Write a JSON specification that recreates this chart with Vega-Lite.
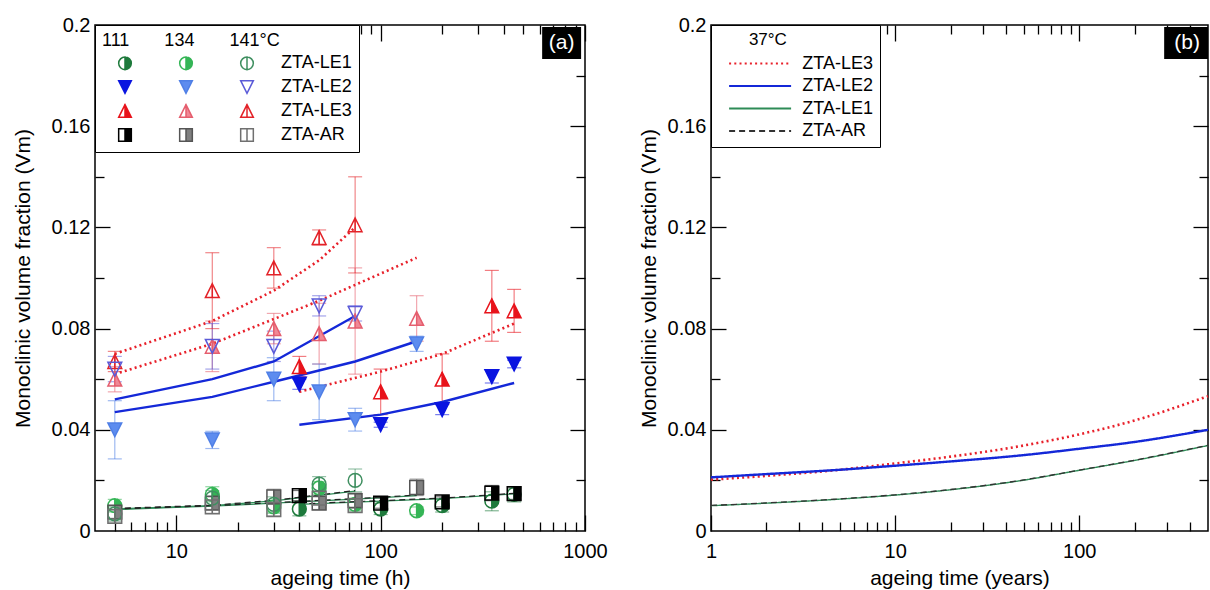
{
  "$schema": "https://vega.github.io/schema/vega-lite/v6.json",
  "padding": {"left": 11, "top": 14, "right": 0, "bottom": 0},
  "spacing": 29,
  "resolve": {
    "scale": {"color": "independent", "strokeDash": "independent", "stroke": "independent", "fill": "independent", "shape": "independent"},
    "legend": {"color": "independent", "strokeDash": "independent", "stroke": "independent", "fill": "independent", "shape": "independent"}
  },
  "config": {
    "font": "Liberation Sans",
    "view": {"stroke": "black", "strokeWidth": 1.5},
    "axis": {"grid": false, "domain": false, "labelColor": "black", "titleColor": "black", "tickColor": "black"},
    "legend": {"titleColor": "black", "labelColor": "black"}
  },
  "datasets": {
    "pts": [
      {"s":"ZTA-LE3 141","t":5,"v":0.067,"lo":0.063,"hi":0.071},
      {"s":"ZTA-LE3 141","t":15,"v":0.095,"lo":0.080,"hi":0.110},
      {"s":"ZTA-LE3 141","t":30,"v":0.104,"lo":0.096,"hi":0.112},
      {"s":"ZTA-LE3 141","t":50,"v":0.116,"lo":0.113,"hi":0.119},
      {"s":"ZTA-LE3 141","t":75,"v":0.121,"lo":0.102,"hi":0.140},
      {"s":"ZTA-LE3 134","t":5,"v":0.060,"lo":0.055,"hi":0.065},
      {"s":"ZTA-LE3 134","t":15,"v":0.073,"lo":0.063,"hi":0.083},
      {"s":"ZTA-LE3 134","t":30,"v":0.080,"lo":0.074,"hi":0.086},
      {"s":"ZTA-LE3 134","t":50,"v":0.078,"lo":0.066,"hi":0.090},
      {"s":"ZTA-LE3 134","t":75,"v":0.083,"lo":0.062,"hi":0.104},
      {"s":"ZTA-LE3 134","t":150,"v":0.084,"lo":0.075,"hi":0.093},
      {"s":"ZTA-LE3 111","t":40,"v":0.065,"lo":0.061,"hi":0.069},
      {"s":"ZTA-LE3 111","t":100,"v":0.055,"lo":0.046,"hi":0.064},
      {"s":"ZTA-LE3 111","t":200,"v":0.060,"lo":0.050,"hi":0.070},
      {"s":"ZTA-LE3 111","t":350,"v":0.089,"lo":0.075,"hi":0.103},
      {"s":"ZTA-LE3 111","t":450,"v":0.087,"lo":0.0785,"hi":0.0955},
      {"s":"ZTA-LE2 141","t":5,"v":0.064,"lo":0.059,"hi":0.069},
      {"s":"ZTA-LE2 141","t":15,"v":0.073,"lo":0.064,"hi":0.082},
      {"s":"ZTA-LE2 141","t":30,"v":0.073,"lo":0.067,"hi":0.079},
      {"s":"ZTA-LE2 141","t":50,"v":0.089,"lo":0.085,"hi":0.093},
      {"s":"ZTA-LE2 141","t":75,"v":0.086,"lo":0.083,"hi":0.089},
      {"s":"ZTA-LE2 134","t":5,"v":0.040,"lo":0.0285,"hi":0.0515},
      {"s":"ZTA-LE2 134","t":15,"v":0.036,"lo":0.0326,"hi":0.0394},
      {"s":"ZTA-LE2 134","t":30,"v":0.060,"lo":0.0515,"hi":0.0685},
      {"s":"ZTA-LE2 134","t":50,"v":0.055,"lo":0.044,"hi":0.066},
      {"s":"ZTA-LE2 134","t":75,"v":0.044,"lo":0.0395,"hi":0.0485},
      {"s":"ZTA-LE2 134","t":150,"v":0.074,"lo":0.071,"hi":0.077},
      {"s":"ZTA-LE2 111","t":40,"v":0.058,"lo":0.056,"hi":0.060},
      {"s":"ZTA-LE2 111","t":100,"v":0.042,"lo":0.041,"hi":0.043},
      {"s":"ZTA-LE2 111","t":200,"v":0.048,"lo":0.046,"hi":0.050},
      {"s":"ZTA-LE2 111","t":350,"v":0.061,"lo":0.0585,"hi":0.0635},
      {"s":"ZTA-LE2 111","t":450,"v":0.066,"lo":0.0645,"hi":0.0675},
      {"s":"ZTA-LE1 111","t":40,"v":0.0087,"lo":0.006,"hi":0.0115},
      {"s":"ZTA-LE1 111","t":100,"v":0.0087,"lo":0.0065,"hi":0.011},
      {"s":"ZTA-LE1 111","t":200,"v":0.0100,"lo":0.0075,"hi":0.0125},
      {"s":"ZTA-LE1 111","t":350,"v":0.0118,"lo":0.008,"hi":0.0155},
      {"s":"ZTA-LE1 111","t":450,"v":0.0145,"lo":0.0115,"hi":0.0175},
      {"s":"ZTA-AR 111","t":40,"v":0.0140,"lo":0.012,"hi":0.016},
      {"s":"ZTA-AR 111","t":100,"v":0.0110,"lo":0.009,"hi":0.013},
      {"s":"ZTA-AR 111","t":200,"v":0.0115,"lo":0.0095,"hi":0.0135},
      {"s":"ZTA-AR 111","t":350,"v":0.0150,"lo":0.012,"hi":0.018},
      {"s":"ZTA-AR 111","t":450,"v":0.0148,"lo":0.0125,"hi":0.017},
      {"s":"ZTA-LE1 134","t":5,"v":0.0100,"lo":0.0075,"hi":0.0125},
      {"s":"ZTA-LE1 134","t":15,"v":0.0145,"lo":0.0115,"hi":0.0175},
      {"s":"ZTA-LE1 134","t":30,"v":0.0095,"lo":0.007,"hi":0.012},
      {"s":"ZTA-LE1 134","t":50,"v":0.0170,"lo":0.0145,"hi":0.0195},
      {"s":"ZTA-LE1 134","t":75,"v":0.0105,"lo":0.008,"hi":0.013},
      {"s":"ZTA-LE1 134","t":150,"v":0.0080,"lo":0.0065,"hi":0.0095},
      {"s":"ZTA-AR 134","t":5,"v":0.0075,"lo":0.005,"hi":0.010},
      {"s":"ZTA-AR 134","t":15,"v":0.0110,"lo":0.0085,"hi":0.0135},
      {"s":"ZTA-AR 134","t":30,"v":0.0135,"lo":0.0105,"hi":0.0165},
      {"s":"ZTA-AR 134","t":50,"v":0.0110,"lo":0.0085,"hi":0.0135},
      {"s":"ZTA-AR 134","t":75,"v":0.0120,"lo":0.009,"hi":0.015},
      {"s":"ZTA-AR 134","t":150,"v":0.0172,"lo":0.014,"hi":0.0205},
      {"s":"ZTA-LE1 141","t":5,"v":0.0068,"lo":0.004,"hi":0.0095},
      {"s":"ZTA-LE1 141","t":15,"v":0.0130,"lo":0.010,"hi":0.016},
      {"s":"ZTA-LE1 141","t":30,"v":0.0105,"lo":0.0075,"hi":0.0135},
      {"s":"ZTA-LE1 141","t":50,"v":0.0185,"lo":0.0155,"hi":0.0215},
      {"s":"ZTA-LE1 141","t":75,"v":0.0200,"lo":0.0155,"hi":0.0245},
      {"s":"ZTA-AR 141","t":5,"v":0.0058,"lo":0.0035,"hi":0.008},
      {"s":"ZTA-AR 141","t":15,"v":0.0095,"lo":0.007,"hi":0.012},
      {"s":"ZTA-AR 141","t":30,"v":0.0085,"lo":0.006,"hi":0.011},
      {"s":"ZTA-AR 141","t":50,"v":0.0130,"lo":0.0105,"hi":0.0155},
      {"s":"ZTA-AR 141","t":75,"v":0.0100,"lo":0.0075,"hi":0.0125}
    ],
    "fa": [
      {"k":"LE3","g":"141","t":5,"v":0.070},{"k":"LE3","g":"141","t":15,"v":0.083},{"k":"LE3","g":"141","t":30,"v":0.095},{"k":"LE3","g":"141","t":50,"v":0.107},{"k":"LE3","g":"141","t":75,"v":0.120},
      {"k":"LE3","g":"134","t":5,"v":0.062},{"k":"LE3","g":"134","t":15,"v":0.074},{"k":"LE3","g":"134","t":50,"v":0.091},{"k":"LE3","g":"134","t":150,"v":0.108},
      {"k":"LE3","g":"111","t":40,"v":0.055},{"k":"LE3","g":"111","t":100,"v":0.063},{"k":"LE3","g":"111","t":200,"v":0.070},{"k":"LE3","g":"111","t":450,"v":0.082},
      {"k":"LE2","g":"141","t":5,"v":0.052},{"k":"LE2","g":"141","t":15,"v":0.060},{"k":"LE2","g":"141","t":30,"v":0.067},{"k":"LE2","g":"141","t":75,"v":0.085},
      {"k":"LE2","g":"134","t":5,"v":0.047},{"k":"LE2","g":"134","t":15,"v":0.053},{"k":"LE2","g":"134","t":30,"v":0.059},{"k":"LE2","g":"134","t":75,"v":0.067},{"k":"LE2","g":"134","t":150,"v":0.075},
      {"k":"LE2","g":"111","t":40,"v":0.042},{"k":"LE2","g":"111","t":100,"v":0.046},{"k":"LE2","g":"111","t":200,"v":0.051},{"k":"LE2","g":"111","t":450,"v":0.0585},
      {"k":"LE1","g":"141","t":5,"v":0.0087},{"k":"LE1","g":"141","t":15,"v":0.0100},{"k":"LE1","g":"141","t":30,"v":0.0119},{"k":"LE1","g":"141","t":75,"v":0.0158},
      {"k":"LE1","g":"134","t":5,"v":0.0085},{"k":"LE1","g":"134","t":15,"v":0.0098},{"k":"LE1","g":"134","t":30,"v":0.0110},{"k":"LE1","g":"134","t":75,"v":0.0126},{"k":"LE1","g":"134","t":150,"v":0.0140},
      {"k":"LE1","g":"111","t":40,"v":0.0105},{"k":"LE1","g":"111","t":100,"v":0.0118},{"k":"LE1","g":"111","t":200,"v":0.0128},{"k":"LE1","g":"111","t":450,"v":0.0147},
      {"k":"AR","g":"141","t":5,"v":0.0089},{"k":"AR","g":"141","t":15,"v":0.0102},{"k":"AR","g":"141","t":30,"v":0.0121},{"k":"AR","g":"141","t":75,"v":0.0160},
      {"k":"AR","g":"134","t":5,"v":0.0087},{"k":"AR","g":"134","t":15,"v":0.0100},{"k":"AR","g":"134","t":30,"v":0.0112},{"k":"AR","g":"134","t":75,"v":0.0128},{"k":"AR","g":"134","t":150,"v":0.0142},
      {"k":"AR","g":"111","t":40,"v":0.0107},{"k":"AR","g":"111","t":100,"v":0.0120},{"k":"AR","g":"111","t":200,"v":0.0130},{"k":"AR","g":"111","t":450,"v":0.0149}
    ],
    "fb": [
      {"s":"ZTA-LE3","t":1,"v":0.0203},{"s":"ZTA-LE3","t":2,"v":0.0218},{"s":"ZTA-LE3","t":5,"v":0.0242},{"s":"ZTA-LE3","t":10,"v":0.0267},{"s":"ZTA-LE3","t":20,"v":0.0294},{"s":"ZTA-LE3","t":50,"v":0.0338},{"s":"ZTA-LE3","t":100,"v":0.0382},{"s":"ZTA-LE3","t":200,"v":0.0437},{"s":"ZTA-LE3","t":500,"v":0.0533},
      {"s":"ZTA-LE2","t":1,"v":0.0212},{"s":"ZTA-LE2","t":2,"v":0.0225},{"s":"ZTA-LE2","t":5,"v":0.0242},{"s":"ZTA-LE2","t":10,"v":0.0258},{"s":"ZTA-LE2","t":20,"v":0.0275},{"s":"ZTA-LE2","t":50,"v":0.0300},{"s":"ZTA-LE2","t":100,"v":0.0325},{"s":"ZTA-LE2","t":200,"v":0.0352},{"s":"ZTA-LE2","t":500,"v":0.0400},
      {"s":"ZTA-LE1","t":1,"v":0.0100},{"s":"ZTA-LE1","t":2,"v":0.0110},{"s":"ZTA-LE1","t":5,"v":0.0126},{"s":"ZTA-LE1","t":10,"v":0.0142},{"s":"ZTA-LE1","t":20,"v":0.0163},{"s":"ZTA-LE1","t":50,"v":0.0201},{"s":"ZTA-LE1","t":100,"v":0.0240},{"s":"ZTA-LE1","t":200,"v":0.0279},{"s":"ZTA-LE1","t":500,"v":0.0338},
      {"s":"ZTA-AR","t":1,"v":0.0101},{"s":"ZTA-AR","t":2,"v":0.0111},{"s":"ZTA-AR","t":5,"v":0.0127},{"s":"ZTA-AR","t":10,"v":0.0143},{"s":"ZTA-AR","t":20,"v":0.0164},{"s":"ZTA-AR","t":50,"v":0.0202},{"s":"ZTA-AR","t":100,"v":0.0241},{"s":"ZTA-AR","t":200,"v":0.0280},{"s":"ZTA-AR","t":500,"v":0.0339}
    ]
  },
  "hconcat": [
    {
      "width": 490,
      "height": 506,
      "resolve": {"axis": {"x": "independent", "y": "independent"}},
      "layer": [
        {
          "data": {"name": "pts"},
          "mark": {"type": "rule", "strokeWidth": 1.2, "strokeOpacity": 0.55, "opacity": 1},
          "encoding": {
            "x": {"field": "t", "type": "quantitative", "scale": {"type": "log", "domain": [4, 1000], "nice": false},
              "axis": {"orient": "bottom", "values": [10, 100, 1000], "format": "d", "ticks": false, "tickSize": 0, "domain": false, "grid": false, "labelPadding": 10, "labelFontSize": 20, "labelFlush": false, "labelOverlap": false, "title": "ageing time (h)", "titleFontSize": 21, "titleFontWeight": "normal", "titlePadding": 6}},
            "y": {"field": "lo", "type": "quantitative", "scale": {"domain": [0, 0.2], "nice": false, "zero": false},
              "axis": {"orient": "left", "values": [0, 0.04, 0.08, 0.12, 0.16, 0.2], "format": "~g", "ticks": false, "tickSize": 0, "domain": false, "grid": false, "labelPadding": 5, "labelFontSize": 20, "labelFlush": false, "labelOverlap": false, "title": "Monoclinic volume fraction (Vm)", "titleFontSize": 21, "titleFontWeight": "normal", "titlePadding": 18}},
            "y2": {"field": "hi"},
            "stroke": {"field": "s", "type": "nominal",
              "scale": {"domain": ["ZTA-LE1 111","ZTA-LE1 134","ZTA-LE1 141","ZTA-LE2 111","ZTA-LE2 134","ZTA-LE2 141","ZTA-LE3 111","ZTA-LE3 134","ZTA-LE3 141","ZTA-AR 111","ZTA-AR 134","ZTA-AR 141"],
                "range": ["#1e7a3c","#35b556","#3f8f60","#0a14e0","#4f7fe6","#5a5ad8","#e8131b","#e55e6e","#e32228","#000000","#555555","#707070"]}}
          }
        },
        {
          "data": {"name": "pts"},
          "mark": {"type": "point", "shape": "stroke", "size": 196, "strokeWidth": 1.2, "strokeOpacity": 0.55, "opacity": 1, "filled": false},
          "encoding": {
            "x": {"field": "t", "type": "quantitative", "axis": {"orient": "bottom", "values": [10, 100, 1000], "labels": false, "domain": false, "grid": false, "tickSize": -16, "tickWidth": 1.3, "title": null}},
            "y": {"field": "lo", "type": "quantitative", "axis": {"orient": "left", "values": [0.04, 0.08, 0.12, 0.16], "labels": false, "domain": false, "grid": false, "tickSize": -15, "tickWidth": 1.3, "title": null}},
            "stroke": {"field": "s", "type": "nominal"}
          }
        },
        {
          "data": {"name": "pts"},
          "mark": {"type": "point", "shape": "stroke", "size": 196, "strokeWidth": 1.2, "strokeOpacity": 0.55, "opacity": 1, "filled": false},
          "encoding": {
            "x": {"field": "t", "type": "quantitative", "axis": {"orient": "bottom", "values": [5,6,7,8,9,20,30,40,50,60,70,80,90,200,300,400,500,600,700,800,900], "labels": false, "domain": false, "grid": false, "tickSize": -9, "tickWidth": 1.3, "title": null}},
            "y": {"field": "hi", "type": "quantitative", "axis": {"orient": "left", "values": [0.02, 0.06, 0.1, 0.14, 0.18], "labels": false, "domain": false, "grid": false, "tickSize": -9, "tickWidth": 1.3, "title": null}},
            "stroke": {"field": "s", "type": "nominal"}
          }
        },
        {
          "data": {"name": "fa"},
          "transform": [{"filter": "datum.k == 'LE3'"}],
          "mark": {"type": "line", "color": "#e8202a", "strokeWidth": 2.6, "strokeDash": [2, 3.2]},
          "encoding": {
            "x": {"field": "t", "type": "quantitative", "axis": {"orient": "top", "values": [10, 100, 1000], "labels": false, "domain": false, "grid": false, "tickSize": -16, "tickWidth": 1.3, "title": null}},
            "y": {"field": "v", "type": "quantitative", "axis": {"orient": "right", "values": [0.04, 0.08, 0.12, 0.16], "labels": false, "domain": false, "grid": false, "tickSize": -15, "tickWidth": 1.3, "title": null}},
            "detail": {"field": "g"}
          }
        },
        {
          "data": {"name": "fa"},
          "transform": [{"filter": "datum.k == 'LE2'"}],
          "mark": {"type": "line", "color": "#1428d8", "strokeWidth": 2.4},
          "encoding": {
            "x": {"field": "t", "type": "quantitative", "axis": {"orient": "top", "values": [5,6,7,8,9,20,30,40,50,60,70,80,90,200,300,400,500,600,700,800,900], "labels": false, "domain": false, "grid": false, "tickSize": -9, "tickWidth": 1.3, "title": null}},
            "y": {"field": "v", "type": "quantitative", "axis": {"orient": "right", "values": [0.02, 0.06, 0.1, 0.14, 0.18], "labels": false, "domain": false, "grid": false, "tickSize": -9, "tickWidth": 1.3, "title": null}},
            "detail": {"field": "g"}
          }
        },
        {
          "data": {"name": "fa"},
          "transform": [{"filter": "datum.k == 'LE1'"}],
          "mark": {"type": "line", "color": "#2e8b57", "strokeWidth": 1.3},
          "encoding": {
            "x": {"field": "t", "type": "quantitative", "axis": null},
            "y": {"field": "v", "type": "quantitative", "axis": null},
            "detail": {"field": "g"}
          }
        },
        {
          "data": {"name": "fa"},
          "transform": [{"filter": "datum.k == 'AR'"}],
          "mark": {"type": "line", "color": "#222222", "strokeWidth": 1.2, "strokeDash": [6, 4]},
          "encoding": {
            "x": {"field": "t", "type": "quantitative", "axis": null},
            "y": {"field": "v", "type": "quantitative", "axis": null},
            "detail": {"field": "g"}
          }
        },
        {
          "data": {"name": "pts"},
          "mark": {"type": "point", "filled": true, "size": 190, "strokeWidth": 1.5, "opacity": 1},
          "encoding": {
            "x": {"field": "t", "type": "quantitative", "axis": null},
            "y": {"field": "v", "type": "quantitative", "axis": null},
            "shape": {"field": "s", "type": "nominal",
              "scale": {"domain": ["ZTA-LE1 111","ZTA-LE1 134","ZTA-LE1 141","ZTA-LE2 111","ZTA-LE2 134","ZTA-LE2 141","ZTA-LE3 111","ZTA-LE3 134","ZTA-LE3 141","ZTA-AR 111","ZTA-AR 134","ZTA-AR 141"],
                "range": [
                  "M0,-1A1,1,0,0,1,0,1A1,1,0,0,1,0,-1ZM0,-1A1,1,0,0,0,0,1Z",
                  "M0,-1A1,1,0,0,1,0,1A1,1,0,0,1,0,-1ZM0,-1A1,1,0,0,0,0,1Z",
                  "M0,-1A1,1,0,0,1,0,1A1,1,0,0,1,0,-1ZM0,-1A1,1,0,0,0,0,1Z",
                  "M-1,-1L1,-1L0,1Z",
                  "M-1,-1L1,-1L0,1Z",
                  "M-1,-1L1,-1L0,1Z",
                  "M0,-1L1,1L-1,1ZM0,-1L-1,1L0,1Z",
                  "M0,-1L1,1L-1,1ZM0,-1L-1,1L0,1Z",
                  "M0,-1L1,1L-1,1ZM0,-1L-1,1L0,1Z",
                  "M-1,-1L1,-1L1,1L-1,1ZM-1,-1L-1,1L0,1L0,-1Z",
                  "M-1,-1L1,-1L1,1L-1,1ZM-1,-1L-1,1L0,1L0,-1Z",
                  "M-1,-1L1,-1L1,1L-1,1ZM-1,-1L-1,1L0,1L0,-1Z"
                ]},
              "legend": {
                "orient": "top-left", "offset": 0, "columns": 3, "direction": "horizontal",
                "title": "111\u00a0\u00a0\u00a0\u00a0\u00a0\u00a0\u00a0134\u00a0\u00a0\u00a0\u00a0\u00a0\u00a0\u00a0141°C",
                "titleFontSize": 18, "titleFontWeight": "normal", "titlePadding": 4, "titleLimit": 400,
                "labelFontSize": 18, "labelOffset": 25, "labelLimit": 200,
                "labelExpr": "slice(datum.label, -3) == '141' ? slice(datum.label, 0, -4) : ''",
                "symbolSize": 160, "symbolStrokeWidth": 1.5, "symbolOffset": 14, "symbolOpacity": 1,
                "rowPadding": 4, "columnPadding": 4, "padding": 7,
                "strokeColor": "black", "fillColor": "white", "cornerRadius": 0
              }},
            "fill": {"field": "s", "type": "nominal",
              "scale": {"domain": ["ZTA-LE1 111","ZTA-LE1 134","ZTA-LE1 141","ZTA-LE2 111","ZTA-LE2 134","ZTA-LE2 141","ZTA-LE3 111","ZTA-LE3 134","ZTA-LE3 141","ZTA-AR 111","ZTA-AR 134","ZTA-AR 141"],
                "range": ["#1e7a3c","#35b556","transparent","#0a14e0","#5d8cef","transparent","#e8131b","#f08896","transparent","#000000","#808080","transparent"]}},
            "stroke": {"field": "s", "type": "nominal"}
          }
        },
        {
          "data": {"values": [{"lab": "(a)"}]},
          "mark": {"type": "rect", "color": "black"},
          "encoding": {
            "x": {"datum": 617, "type": "quantitative", "axis": null},
            "x2": {"datum": 957},
            "y": {"datum": 0.1866, "type": "quantitative", "axis": null},
            "y2": {"datum": 0.1992}
          }
        },
        {
          "data": {"values": [{"lab": "(a)"}]},
          "mark": {"type": "text", "color": "white", "fontSize": 21, "align": "center", "baseline": "middle"},
          "encoding": {
            "x": {"datum": 768, "type": "quantitative", "axis": null},
            "y": {"datum": 0.1929, "type": "quantitative", "axis": null},
            "text": {"field": "lab"}
          }
        }
      ]
    },
    {
      "width": 497,
      "height": 506,
      "resolve": {"axis": {"x": "independent", "y": "independent"}},
      "layer": [
        {
          "data": {"name": "fb"},
          "transform": [{"filter": "datum.s == 'ZTA-LE3'"}],
          "mark": {"type": "line", "interpolate": "monotone", "strokeWidth": 2.6},
          "encoding": {
            "x": {"field": "t", "type": "quantitative", "scale": {"type": "log", "domain": [1, 500], "nice": false},
              "axis": {"orient": "bottom", "values": [1, 10, 100], "format": "d", "ticks": false, "tickSize": 0, "domain": false, "grid": false, "labelPadding": 10, "labelFontSize": 20, "labelFlush": false, "labelOverlap": false, "title": "ageing time (years)", "titleFontSize": 21, "titleFontWeight": "normal", "titlePadding": 6}},
            "y": {"field": "v", "type": "quantitative", "scale": {"domain": [0, 0.2], "nice": false, "zero": false},
              "axis": {"orient": "left", "values": [0, 0.04, 0.08, 0.12, 0.16, 0.2], "format": "~g", "ticks": false, "tickSize": 0, "domain": false, "grid": false, "labelPadding": 5, "labelFontSize": 20, "labelFlush": false, "labelOverlap": false, "title": "Monoclinic volume fraction (Vm)", "titleFontSize": 21, "titleFontWeight": "normal", "titlePadding": 8}},
            "color": {"field": "s", "type": "nominal",
              "scale": {"domain": ["ZTA-LE3", "ZTA-LE2", "ZTA-LE1", "ZTA-AR"], "range": ["#e8202a", "#1428d8", "#2e8b57", "#333333"]},
              "legend": {
                "orient": "top-left", "offset": 0,
                "title": "\u2800\u00a0\u00a0\u00a0\u00a037°C",
                "titleFontSize": 17, "titleFontWeight": "normal", "titlePadding": 3, "titleLimit": 300,
                "labelFontSize": 18, "labelOffset": 30.7, "labelLimit": 200,
                "symbolType": "M-3,0L3,0", "symbolSize": 427, "symbolStrokeWidth": 2, "symbolOffset": 30.6,
                "rowPadding": 1.5, "padding": 7,
                "strokeColor": "black", "fillColor": "white", "cornerRadius": 0
              }},
            "strokeDash": {"field": "s", "type": "nominal",
              "scale": {"domain": ["ZTA-LE3", "ZTA-LE2", "ZTA-LE1", "ZTA-AR"], "range": [[2, 3.2], [1, 0], [1, 0], [6, 4]]}}
          }
        },
        {
          "data": {"name": "fb"},
          "transform": [{"filter": "datum.s == 'ZTA-LE2'"}],
          "mark": {"type": "line", "interpolate": "monotone", "strokeWidth": 2.4},
          "encoding": {
            "x": {"field": "t", "type": "quantitative", "axis": {"orient": "bottom", "values": [1, 10, 100], "labels": false, "domain": false, "grid": false, "tickSize": -16, "tickWidth": 1.3, "title": null}},
            "y": {"field": "v", "type": "quantitative", "axis": {"orient": "left", "values": [0.04, 0.08, 0.12, 0.16], "labels": false, "domain": false, "grid": false, "tickSize": -15, "tickWidth": 1.3, "title": null}},
            "color": {"field": "s", "type": "nominal"},
            "strokeDash": {"field": "s", "type": "nominal"}
          }
        },
        {
          "data": {"name": "fb"},
          "transform": [{"filter": "datum.s == 'ZTA-LE1'"}],
          "mark": {"type": "line", "interpolate": "monotone", "strokeWidth": 1.4},
          "encoding": {
            "x": {"field": "t", "type": "quantitative", "axis": {"orient": "bottom", "values": [2,3,4,5,6,7,8,9,20,30,40,50,60,70,80,90,200,300,400], "labels": false, "domain": false, "grid": false, "tickSize": -9, "tickWidth": 1.3, "title": null}},
            "y": {"field": "v", "type": "quantitative", "axis": {"orient": "left", "values": [0.02, 0.06, 0.1, 0.14, 0.18], "labels": false, "domain": false, "grid": false, "tickSize": -9, "tickWidth": 1.3, "title": null}},
            "color": {"field": "s", "type": "nominal"},
            "strokeDash": {"field": "s", "type": "nominal"}
          }
        },
        {
          "data": {"name": "fb"},
          "transform": [{"filter": "datum.s == 'ZTA-AR'"}],
          "mark": {"type": "line", "interpolate": "monotone", "strokeWidth": 1.3},
          "encoding": {
            "x": {"field": "t", "type": "quantitative", "axis": {"orient": "top", "values": [1, 10, 100], "labels": false, "domain": false, "grid": false, "tickSize": -16, "tickWidth": 1.3, "title": null}},
            "y": {"field": "v", "type": "quantitative", "axis": {"orient": "right", "values": [0.04, 0.08, 0.12, 0.16], "labels": false, "domain": false, "grid": false, "tickSize": -15, "tickWidth": 1.3, "title": null}},
            "color": {"field": "s", "type": "nominal"},
            "strokeDash": {"field": "s", "type": "nominal"}
          }
        },
        {
          "data": {"values": [{"lab": "(b)"}]},
          "mark": {"type": "rect", "color": "black"},
          "encoding": {
            "x": {"datum": 289, "type": "quantitative", "axis": {"orient": "top", "values": [2,3,4,5,6,7,8,9,20,30,40,50,60,70,80,90,200,300,400], "labels": false, "domain": false, "grid": false, "tickSize": -9, "tickWidth": 1.3, "title": null}},
            "x2": {"datum": 500},
            "y": {"datum": 0.1866, "type": "quantitative", "axis": {"orient": "right", "values": [0.02, 0.06, 0.1, 0.14, 0.18], "labels": false, "domain": false, "grid": false, "tickSize": -9, "tickWidth": 1.3, "title": null}},
            "y2": {"datum": 0.1992}
          }
        },
        {
          "data": {"values": [{"lab": "(b)"}]},
          "mark": {"type": "text", "color": "white", "fontSize": 21, "align": "center", "baseline": "middle"},
          "encoding": {
            "x": {"datum": 385, "type": "quantitative", "axis": null},
            "y": {"datum": 0.1929, "type": "quantitative", "axis": null},
            "text": {"field": "lab"}
          }
        }
      ]
    }
  ]
}
